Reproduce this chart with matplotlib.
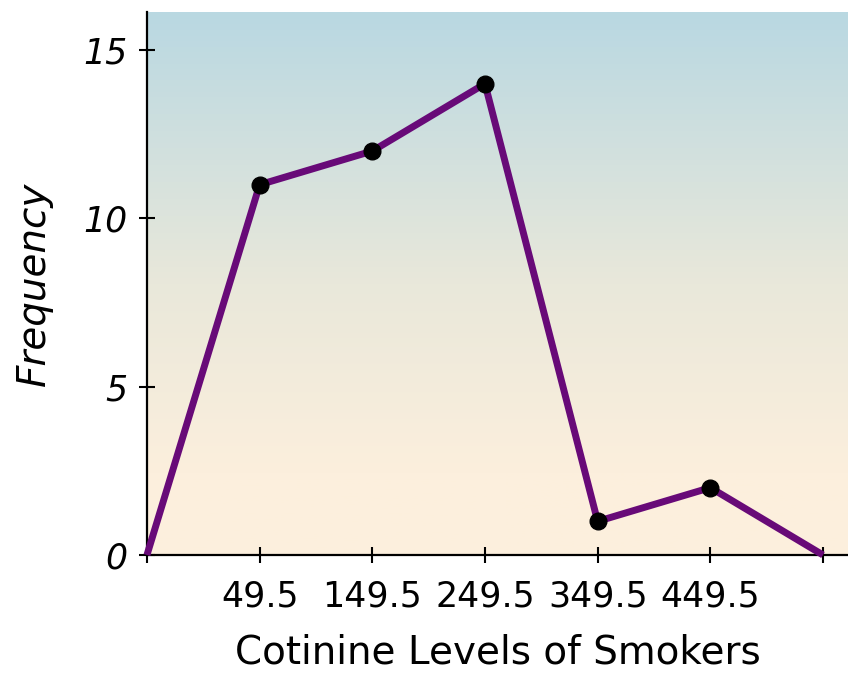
import numpy as np
import matplotlib
matplotlib.use('Agg')
import matplotlib.pyplot as plt
from matplotlib.colors import LinearSegmentedColormap

# frequency polygon data
midpoints = [-50.5, 49.5, 149.5, 249.5, 349.5, 449.5, 549.5]
freq = [0, 11, 12, 14, 1, 2, 0]
tick_labels = ['', '49.5', '149.5', '249.5', '349.5', '449.5', '']
y_ticks = [0, 5, 10, 15]

plt.rcParams['font.family'] = ['DejaVu Sans']

fig = plt.figure(figsize=(8.48, 6.75), dpi=100)
ax = fig.add_axes([0.1733, 0.1778, 0.8267, 0.8044])

# vertical gradient background
cmap = LinearSegmentedColormap.from_list(
    'bg', [(0, '#fdf0dd'), (0.15, '#fcefdd'), (0.5, '#e9e8da'), (1, '#b9d8e2')])
grad = np.linspace(0, 1, 256).reshape(-1, 1)
ax.imshow(grad, cmap=cmap, origin='lower', aspect='auto',
          extent=[0, 1, 0, 1], transform=ax.transAxes, zorder=0)

ax.plot(midpoints, freq, color='#680a78', lw=5, zorder=3, clip_on=False,
        solid_capstyle='butt')
ax.plot(midpoints[1:-1], freq[1:-1], 'o', color='black', ms=12, zorder=4)

ax.set_xlim(-50.5, 571.7)
ax.set_ylim(0, 16.13)
ax.set_xticks(midpoints)
ax.set_xticklabels(tick_labels, fontsize=25)
ax.set_yticks(y_ticks)
ax.set_yticklabels([str(v) for v in y_ticks], fontsize=25, style='italic')

for s in ['top', 'right']:
    ax.spines[s].set_visible(False)
for s in ['left', 'bottom']:
    ax.spines[s].set_linewidth(1.6)
ax.tick_params(direction='inout', length=12, width=1.5)
ax.tick_params(axis='x', pad=12)
ax.tick_params(axis='y', pad=8)

ax.set_xlabel('Cotinine Levels of Smokers', fontsize=28, labelpad=14)
ax.set_ylabel('Frequency', fontsize=28, style='italic', labelpad=22)

plt.savefig('out.png', dpi=100)
